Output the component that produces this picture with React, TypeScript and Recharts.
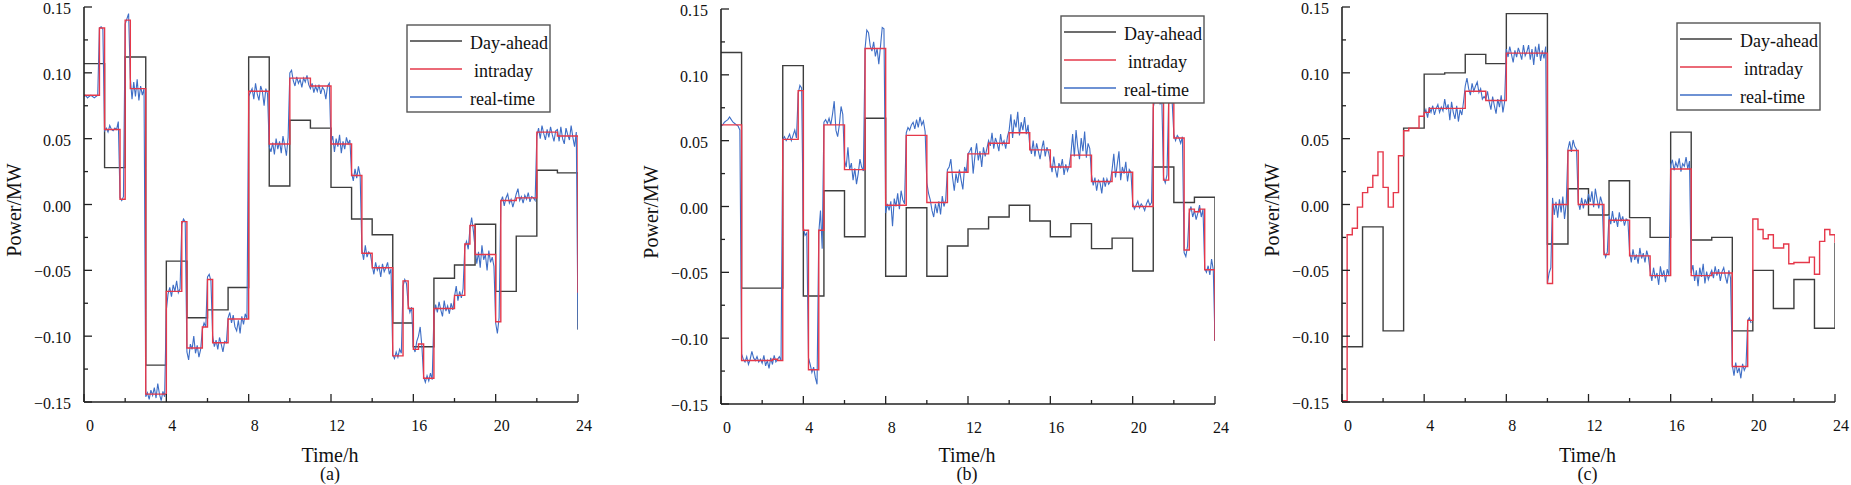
import React from 'react';
import { LineChart, Line, XAxis, YAxis } from 'recharts';

const FONT = '"Liberation Serif", "Times New Roman", Times, serif';

// axis ticks (hours, and power in 1/1000 MW)
const X_TICKS = [0, 2, 4, 6, 8, 10, 12, 14, 16, 18, 20, 22, 24];
const Y_TICKS = [-150, -125, -100, -75, -50, -25, 0, 25, 50, 75, 100, 125, 150];
const SERIES_NAMES = ['Day-ahead', 'intraday', 'real-time'];

// ---------- (a) ----------  values in 1/1000 MW
const DA_A = [107, 28, 112, -122, -43, -86, -80, -63, 112, 14, 64, 58, 13, -11, -23, -90, -108, -56, -46, -15, -66, -24, 26, 24];
const DA_A_END = -95;
const ID_A = [
  83, 83, 83, 134, 57, 57, 57, 4, 140, 88, 88, 88, -144, -144, -144, -144,
  -66, -66, -66, -13, -109, -109, -109, -93, -57, -105, -105, -105, -87, -87, -87, -87,
  86, 86, 86, 86, 46, 46, 46, 46, 96, 96, 96, 96, 90, 90, 90, 90,
  46, 46, 46, 46, 22, 22, -37, -37, -48, -48, -48, -48, -115, -115, -58, -79,
  -110, -106, -132, -132, -79, -79, -79, -79, -69, -69, -30, -16, -38, -38, -38, -38,
  -89, 3, 3, 3, 5, 5, 5, 5, 55, 55, 55, 55, 52, 52, 52, 52,
];
const ID_A_END = -67;
const RT_A = [
  82, 83, 81, 82, 83, 82, 81, 82, 83, 134, 135, 133,
  56, 58, 55, 60, 57, 56, 58, 57, 63, 5, 3, 6,
  137, 141, 145, 96, 80, 93, 82, 95, 79, 90, 83, 88,
  -146, -143, -148, -141, -145, -139, -147, -136, -144, -149, -142, -146,
  -80, -68, -63, -70, -61, -66, -58, -67, -64, -15, -11, -13,
  -112, -118, -106, -110, -100, -113, -107, -116, -110, -95, -90, -93,
  -55, -53, -58, -100, -108, -103, -110, -101, -106, -112, -104, -105,
  -86, -82, -90, -84, -93, -96, -88, -98, -85, -91, -83, -87,
  82, 85, 88, 80, 92, 84, 79, 90, 86, 75, 88, 84,
  44, 40, 47, 38, 50, 42, 48, 39, 52, 45, 37, 51,
  100, 102, 94, 90, 97, 92, 95, 89, 96, 93, 98, 91,
  88, 92, 85, 90, 86, 91, 84, 89, 87, 80, 90, 92,
  47, 52, 40, 50, 44, 53, 39, 48, 42, 51, 46, 49,
  24, 18, 27, 20, 29, 22, -34, -42, -31, -40, -36, -38,
  -46, -53, -44, -50, -47, -55, -45, -51, -48, -44, -53, -49,
  -114, -117, -112, -116, -110, -113, -62, -57, -60, -76, -82, -78,
  -108, -112, -104, -100, -93, -108, -131, -135, -130, -134, -128, -133,
  -84, -76, -82, -74, -80, -85, -73, -81, -77, -83, -75, -80,
  -70, -62, -73, -66, -71, -64, -32, -28, -34, -18, -10, -20,
  -33, -45, -36, -48, -31, -42, -38, -50, -35, -44, -40, -47,
  -90, -98, -86, 2, 6, -1, 5, 8, 1, 4, -2, 3,
  8, 12, 3, 6, 1, 7, 4, 9, 2, 6, 5, 3,
  52, 58, 50, 60, 54, 49, 57, 51, 59, 53, 48, 56,
  57, 48, 59, 50, 46, 58, 53, 49, 60, 51, 44, 55,
];
const RT_A_END = -95;

// ---------- (b) ----------
const DA_B = [117, -62, -62, 107, -68, 12, -23, 67, -53, -1, -53, -30, -17, -8, 1, -11, -23, -13, -32, -24, -49, 30, 3, 7];
const DA_B_END = -102;
const ID_B = [
  62, 62, 62, 62, -117, -117, -117, -117, -117, -117, -116, -117, 51, 51, 51, 88,
  -18, -124, -124, -18, 62, 62, 62, 62, 28, 28, 28, 28, 120, 120, 120, 120,
  1, 1, 1, 1, 54, 54, 54, 54, 3, 3, 3, 3, 26, 26, 26, 26,
  40, 40, 40, 40, 48, 48, 48, 48, 56, 56, 56, 56, 43, 43, 43, 43,
  30, 30, 30, 30, 39, 39, 39, 39, 19, 19, 19, 19, 26, 26, 26, 26,
  0, 0, 0, 0, 79, 79, 20, 79, 52, 52, -33, -2, -4, -2, -48, -48,
];
const ID_B_END = -102;
const RT_B = [
  61, 62, 64, 65, 66, 68, 66, 64, 63, 62, 61, 58,
  -112, -116, -118, -114, -120, -116, -110, -115, -117, -114, -118, -116,
  -119, -113, -121, -117, -123, -115, -120, -113, -118, -116, -114, -117,
  51, 53, 50, 52, 55, 50, 54, 58, 52, 86, 92, 90,
  -16, -22, -20, -115, -120, -126, -122, -130, -135, -20, -3, -32,
  64, 66, 63, 67, 62, 70, 80, 58, 53, 62, 76, 70,
  35, 30, 45, 28, 33, 20, 29, 17, 25, 36, 30, 27,
  120, 134, 132, 122, 118, 125, 114, 120, 108, 122, 136, 135,
  -5, 2, -3, 4, -15, 6, 0, 10, -2, 12, 5, 2,
  56, 60, 58, 62, 64, 59, 66, 60, 68, 62, 65, 57,
  18, 10, 5, -3, -8, 2, -5, 4, -6, 8, 0, 5,
  28, 30, 36, 22, 12, 25, 18, 28, 20, 13, 30, 26,
  40, 42, 45, 25, 38, 48, 35, 42, 30, 45, 38, 44,
  50, 46, 56, 44, 52, 48, 42, 55, 47, 50, 44, 53,
  58, 70, 52, 66, 60, 72, 54, 64, 58, 68, 55, 62,
  46, 40, 50, 38, 48, 42, 36, 44, 50, 38, 45, 41,
  34, 26, 38, 28, 22, 33, 29, 36, 24, 32, 27, 31,
  40, 55, 38, 58, 45, 36, 52, 42, 57, 37, 48, 44,
  24, 16, 22, 12, 20, 18, 10, 22, 15, 21, 17, 19,
  28, 40, 22, 32, 42, 20, 30, 25, 34, 19, 28, 26,
  3, -2, 1, 4, -1, 2, 0, -3, 2, 5, 1, 3,
  75, 82, 80, 84, 78, 81, 22, 18, 24, 82, 84, 80,
  55, 50, 54, 52, 48, 53, -35, -38, -30, -5, 0, -8,
  -3, -10, -5, 1, -8, -2, -47, -50, -45, -52, -40, -48,
];
const RT_B_END = -102;

// ---------- (c) ----------
const DA_C = [-108, -17, -96, 58, 99, 100, 114, 107, 145, 145, -30, 12, -8, 18, -10, -25, 55, -27, -25, -96, -50, -79, -57, -94];
const DA_C_END = -29;
const ID_C = [
  -149, -23, -18, -2, 9, 13, 22, 40, 13, -2, 9, 37, 56, 58, 58, 67,
  70, 73, 73, 73, 73, 73, 73, 73, 86, 86, 86, 86, 79, 79, 79, 79,
  115, 115, 115, 115, 115, 115, 115, 115, -60, 0, 0, 0, 41, 41, 0, 0,
  0, 0, 0, -38, -12, -12, -12, -12, -39, -39, -39, -39, -54, -54, -54, -54,
  27, 27, 27, 27, -54, -54, -54, -54, -52, -52, -52, -52, -123, -123, -123, -88,
  -11, -19, -26, -23, -33, -33, -30, -45, -44, -44, -44, -40, -53, -28, -19, -23,
];
const ID_C_END = -29;
// real-time (c) is only shown from 4 h to 20 h
const RT_C_START = 4;
const RT_C = [
  68, 72, 66, 74, 70, 75, 68, 73, 76, 70, 74, 71,
  80, 72, 76, 64, 78, 70, 65, 75, 63, 72, 68, 78,
  90, 96, 88, 83, 92, 86, 90, 93, 85, 88, 80, 82,
  80, 86, 78, 72, 82, 75, 69, 80, 74, 83, 70, 78,
  118, 112, 120, 114, 108, 117, 112, 119, 115, 110, 121, 113,
  116, 121, 110, 118, 106, 120, 112, 122, 109, 117, 111, 120,
  -60, -52, -48, 5, -8, 2, -10, 4, -6, 6, -11, 1,
  42, 48, 40, 49, 44, 42, 2, -4, 5, -3, 4, 0,
  8, 2, 10, -2, 12, 4, -3, 6, 1, -35, -40, -36,
  -8, -15, -5, -14, -10, -17, -6, -13, -9, -16, -11, -12,
  -36, -44, -34, -42, -38, -45, -33, -41, -37, -44, -35, -40,
  -50, -58, -48, -56, -52, -61, -47, -55, -50, -59, -49, -54,
  30, 34, 26, 32, 28, 35, 25, 31, 29, 36, 27, 33,
  -52, -46, -58, -50, -62, -48, -55, -45, -60, -51, -57, -53,
  -50, -56, -47, -54, -49, -58, -51, -48, -55, -60, -50, -56,
  -122, -130, -120, -128, -124, -132, -121, -126, -123, -88, -86, -90,
];

const COLORS = ['#3d3d3d', '#e5384a', '#3e6ec6'];

const toSeries = (vals: number[], perHour: number, end: number | null, start = 0) => {
  const pts = vals.map((v, i) => ({ t: start + i / perHour, v }));
  if (end !== null) pts.push({ t: 24, v: end });
  return pts;
};

const RIGHT = 20;

const PANELS = [
  {
    letter: '(a)', left: 0, width: 598, top: 7, bottom: 402, legend: [323, 18],
    da: toSeries(DA_A, 1, DA_A_END), id: toSeries(ID_A, 4, ID_A_END), rt: toSeries(RT_A, 12, RT_A_END),
  },
  {
    letter: '(b)', left: 637, width: 598, top: 9, bottom: 404, legend: [340, 7],
    da: toSeries(DA_B, 1, DA_B_END), id: toSeries(ID_B, 4, ID_B_END), rt: toSeries(RT_B, 12, RT_B_END),
  },
  {
    letter: '(c)', left: 1258, width: 597, top: 7, bottom: 402, legend: [335, 16],
    da: toSeries(DA_C, 1, DA_C_END), id: toSeries(ID_C, 4, ID_C_END), rt: toSeries(RT_C, 12, null, RT_C_START),
  },
];

const fmtY = (v: number) => (v === 0 ? '0.00' : (v < 0 ? '\u2212' : '') + (Math.abs(v) / 1000).toFixed(2));

const XTick = (props: any) => {
  const { x, y, payload } = props;
  const v = Number(payload.value);
  const major = v % 4 === 0;
  return (
    <g>
      <line x1={x} x2={x} y1={y} y2={y - (major ? 8 : 4)} stroke="#222" strokeWidth={1.3} />
      {major && (
        <text x={x + 6} y={y + 29} textAnchor="middle" fontFamily={FONT} fontSize={16} fill="#111">
          {v}
        </text>
      )}
    </g>
  );
};

const YTick = (props: any) => {
  const { x, y, payload } = props;
  const v = Number(payload.value);
  const major = v % 50 === 0;
  return (
    <g>
      <line x1={x} x2={x + (major ? 8 : 4)} y1={y} y2={y} stroke="#222" strokeWidth={1.3} />
      {major && (
        <text x={x - 13} y={y + 7} textAnchor="end" fontFamily={FONT} fontSize={16} fill="#111">
          {fmtY(v)}
        </text>
      )}
    </g>
  );
};

const Panel = ({ p }: { p: (typeof PANELS)[number] }) => {
  const plotW = p.width - 84 - RIGHT;
  const cx = 84 + plotW / 2 - 1;
  const [lx, ly] = p.legend;
  const bx = 84 + lx;
  const by = p.top + ly;
  return (
    <div style={{ position: 'absolute', left: p.left, top: 0, width: p.width, height: 485 }}>
      <LineChart width={p.width} height={485} margin={{ top: p.top, right: RIGHT, bottom: 485 - p.bottom - 30, left: 24 }}>
        <XAxis
          type="number" dataKey="t" domain={[0, 24]} ticks={X_TICKS} interval={0} allowDataOverflow
          height={30} tickSize={0} tickMargin={0} tickLine={false} tick={<XTick />}
          axisLine={{ stroke: '#222', strokeWidth: 1.6 }}
        />
        <XAxis
          xAxisId="top" orientation="top" type="number" domain={[0, 24]} height={0}
          tick={false} tickLine={false} axisLine={{ stroke: '#666', strokeWidth: 1.4 }}
        />
        <YAxis
          type="number" domain={[-150, 150]} ticks={Y_TICKS} interval={0} allowDataOverflow
          width={60} tickSize={0} tickMargin={0} tickLine={false} tick={<YTick />}
          axisLine={{ stroke: '#222', strokeWidth: 1.6 }}
        />
        <YAxis
          yAxisId="right" orientation="right" type="number" domain={[-150, 150]} width={0}
          tick={false} tickLine={false} axisLine={{ stroke: '#666', strokeWidth: 1.4 }}
        />
        <Line data={p.da} dataKey="v" name={SERIES_NAMES[0]} type="stepAfter" stroke={COLORS[0]} strokeWidth={1.4} dot={false} isAnimationActive={false} />
        <Line data={p.rt} dataKey="v" name={SERIES_NAMES[2]} type="linear" stroke={COLORS[2]} strokeWidth={1.1} dot={false} isAnimationActive={false} />
        <Line data={p.id} dataKey="v" name={SERIES_NAMES[1]} type="stepAfter" stroke={COLORS[1]} strokeWidth={1.4} dot={false} isAnimationActive={false} />
      </LineChart>
      <svg width={p.width} height={485} style={{ position: 'absolute', left: 0, top: 0, pointerEvents: 'none' }}>
        <text
          x={14} y={p.top + 203} transform={`rotate(-90 14 ${p.top + 203})`} textAnchor="middle"
          dominantBaseline="central" fontFamily={FONT} fontSize={20} fill="#111"
        >
          Power/MW
        </text>
        <text x={cx} y={455} textAnchor="middle" dominantBaseline="central" fontFamily={FONT} fontSize={20} fill="#111">
          Time/h
        </text>
        <text x={cx} y={474} textAnchor="middle" dominantBaseline="central" fontFamily={FONT} fontSize={18} fill="#111">
          {p.letter}
        </text>
        <rect x={bx} y={by} width={143} height={87} fill="#fff" stroke="#555" strokeWidth={1.4} />
        {[0, 1, 2].map((i) => {
          const ry = by + 16 + i * 28;
          return (
            <g key={i}>
              <line x1={bx + 3} x2={bx + 55} y1={ry} y2={ry} stroke={COLORS[i]} strokeWidth={1.4} />
              <text x={bx + (i === 1 ? 67 : 63)} y={ry + 2} dominantBaseline="central" fontFamily={FONT} fontSize={18} fill="#111">
                {SERIES_NAMES[i]}
              </text>
            </g>
          );
        })}
      </svg>
    </div>
  );
}

export default function App() {
  return (
    <div style={{ position: 'absolute', left: 0, top: 0, width: 1851, height: 485, background: '#fff', overflow: 'hidden' }}>
      {PANELS.map((p) => (
        <Panel key={p.letter} p={p} />
      ))}
    </div>
  );
}
